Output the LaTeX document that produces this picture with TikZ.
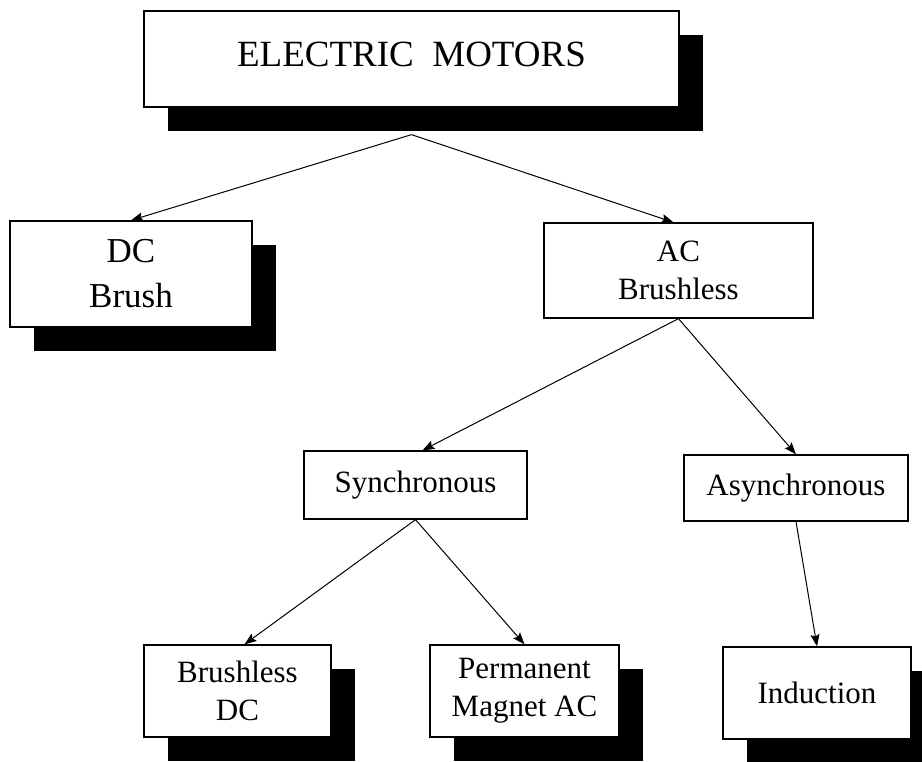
\documentclass[tikz,border=0pt]{standalone}
\usepackage{fontspec}
\setmainfont{Liberation Serif}
\usetikzlibrary{arrows.meta,positioning,shadows}

\begin{document}
\begin{tikzpicture}[on grid, >={Stealth[length=12pt,width=9pt,inset=2pt]}, line width=1pt,
                    text centered]
    \tikzstyle{motor} = [rectangle, draw=black, line width=1.3pt, fill=white,
                         align=center, font=\fontsize{31}{38}\selectfont]
    \tikzstyle{shadowed} = [motor, drop shadow={fill=black, opacity=1,
                            shadow xshift=24pt, shadow yshift=-24pt}]

    \useasboundingbox (0,0) rectangle (922pt,-762pt);

    \node (main)  [shadowed, minimum width=535pt, minimum height=96pt, text depth=9pt,
                   font=\fontsize{37}{42}\selectfont] at (411.5pt,-59pt) {ELECTRIC\ \ MOTORS};
    \node (dc)    [shadowed, minimum width=242pt, minimum height=106pt,
                   font=\fontsize{35}{45}\selectfont,
                   below left=215pt and 280.5pt of main] {DC\\Brush};
    \node (ac)    [motor, minimum width=269pt, minimum height=95pt,
                   below right=211.5pt and 267pt of main] {AC\\Brushless};
    \node (sync)  [motor, minimum width=223pt, minimum height=68pt,
                   below left=214.5pt and 263pt of ac] {Synchronous};
    \node (async) [motor, minimum width=224pt, minimum height=66pt,
                   below right=217.5pt and 117.5pt of ac] {Asynchronous};
    \node (bdc)   [shadowed, minimum width=187pt, minimum height=92pt,
                   below left=206pt and 178pt of sync] {Brushless\\DC};
    \node (pm)    [shadowed, minimum width=189pt, minimum height=92pt,
                   below right=206pt and 109pt of sync] {Permanent\\Magnet AC};
    \node (ind)   [shadowed, minimum width=188pt, minimum height=92pt,
                   below right=205pt and 21pt of async] {Induction};
    \coordinate (fork) at ([yshift=-27pt] main.south);

    \draw [->] (fork) -- (dc.north);
    \draw [->] (fork) -- ([xshift=-5pt] ac.north);
    \draw [->] (ac.south) -- ([xshift=7pt] sync.north);
    \draw [->] (ac.south) -- (async.north);
    \draw [->] (sync.south) -- ([xshift=7pt] bdc.north);
    \draw [->] (sync.south) -- (pm.north);
    \draw [->] (async.south) -- (ind.north);
  \end{tikzpicture}
\end{document}
